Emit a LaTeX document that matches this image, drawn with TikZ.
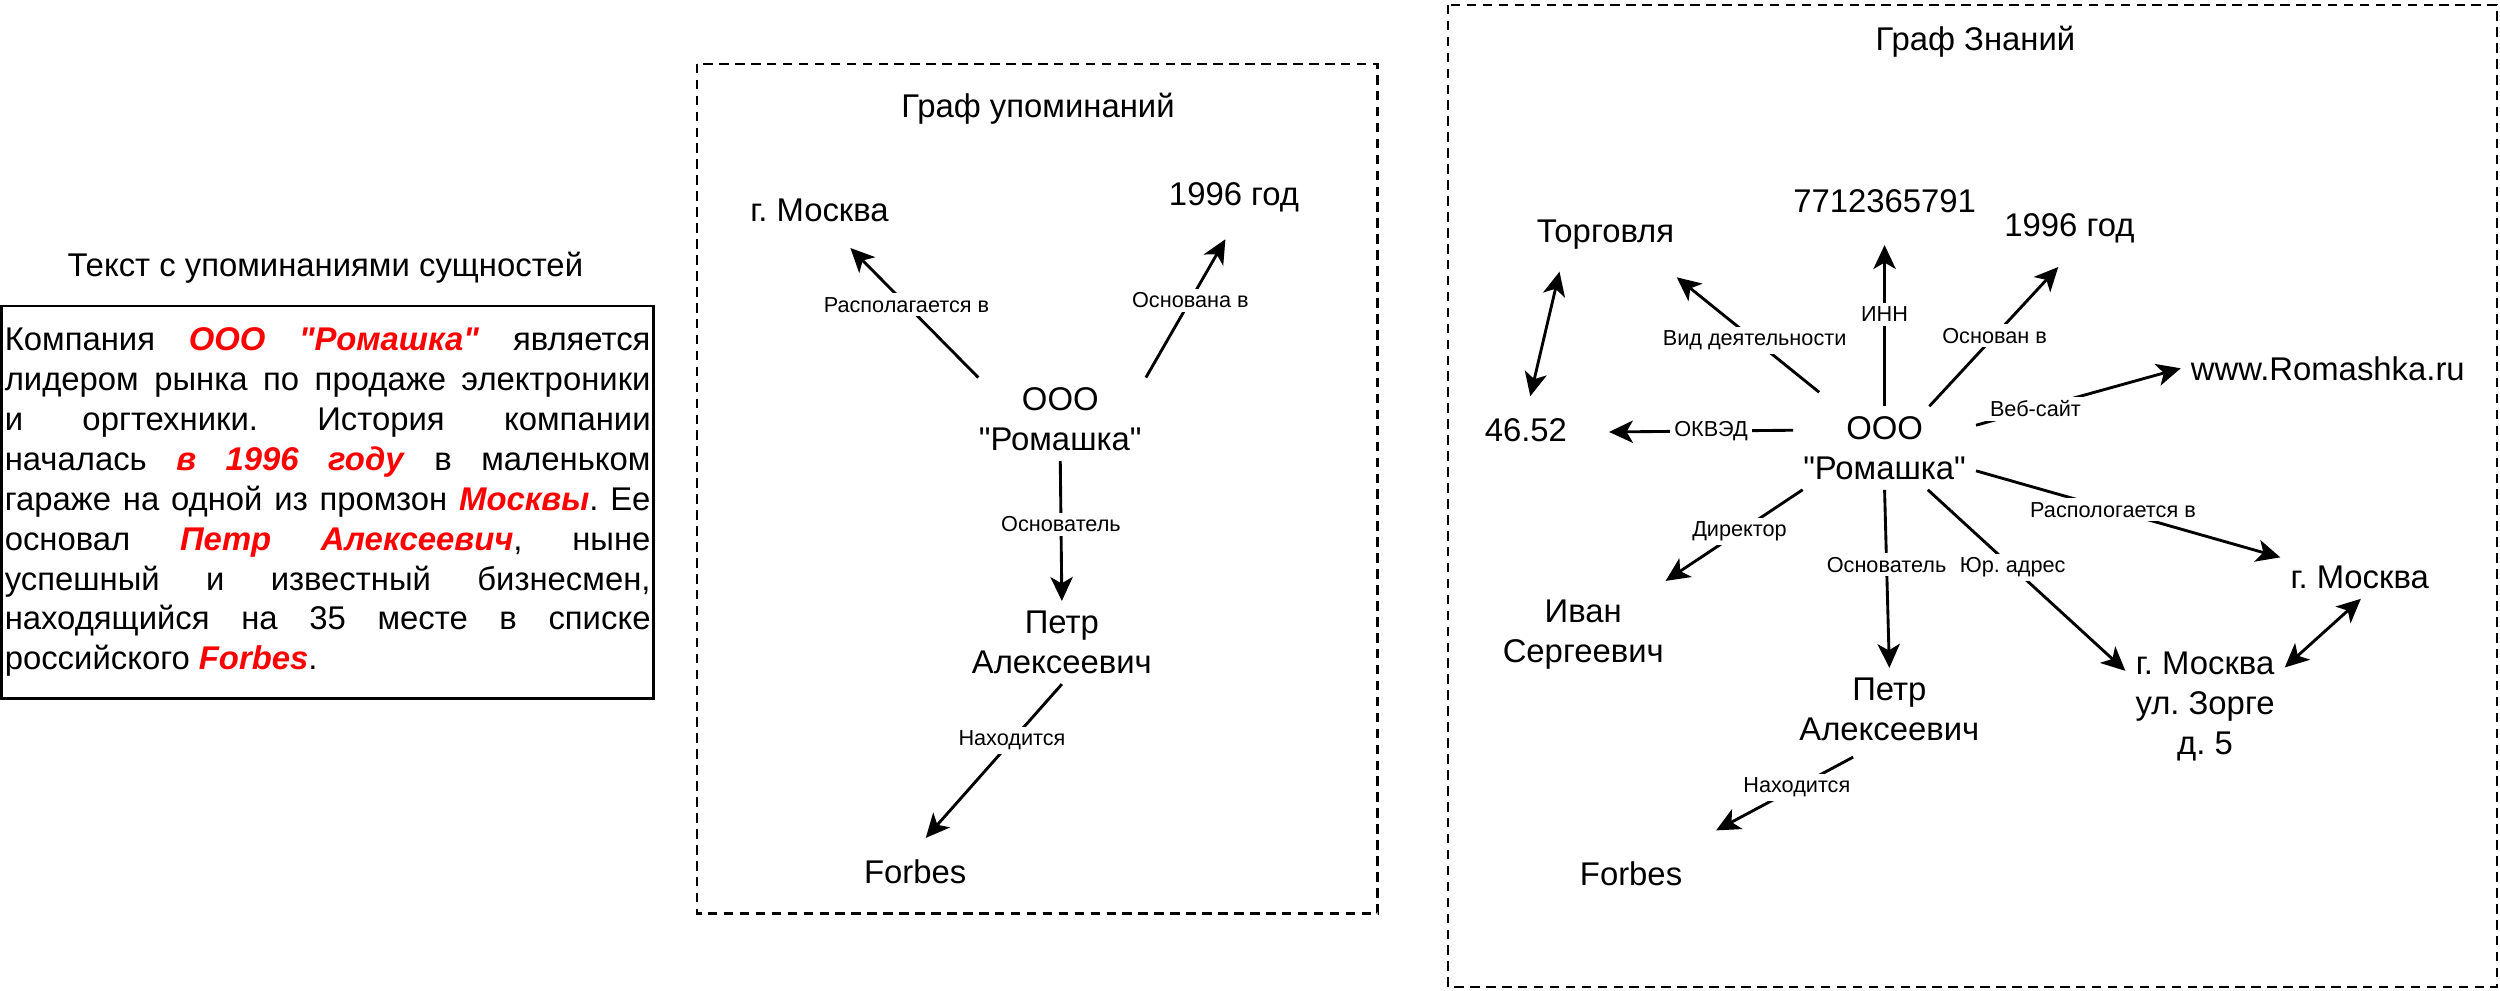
\documentclass[tikz,border=0pt]{standalone}
\usepackage{fontspec}
\setmainfont{Liberation Sans}[Ligatures=TeXOff]
\usepackage{xcolor}
\usepackage{tikz}
\usetikzlibrary{arrows.meta, positioning}

\newcommand{\entfont}{\fontsize{10.3}{12.5}\selectfont}
\newcommand{\lblfont}{\fontsize{6.8}{8}\selectfont}
\newcommand{\hl}[1]{\textcolor{red}{\textbf{\textit{#1}}}}
\frenchspacing

\begin{document}
\begin{tikzpicture}[x=0.5pt, y=-0.5pt,
    ent/.style={align=center, font=\entfont, inner sep=3pt},
    lbl/.style={fill=white, font=\lblfont, inner sep=1.2pt},
    rel/.style={line width=0.9pt, -{Stealth[length=7.5pt, width=7pt, inset=2pt]}},
    relboth/.style={line width=0.9pt, {Stealth[length=7.5pt, width=7pt, inset=2pt]}-{Stealth[length=7.5pt, width=7pt, inset=2pt]}},
    frame/.style={line width=0.7pt, dash pattern=on 3pt off 2pt}]
  \useasboundingbox (0,0) rectangle (1568,621);

  % text with mentions
  \node[ent] (txttitle) at (204,168) {Текст с упоминаниями сущностей};
  \node[draw, line width=0.8pt, text width=202.5pt, inner xsep=1pt, inner ysep=0pt,
        minimum height=123pt, align=justify, font=\entfont] (txt) at (205.5,315) {\noindent
    Компания \hl{ООО "Ромашка"} является\linebreak
    лидером рынка по продаже электроники\linebreak
    и оргтехники. История компании\linebreak
    началась \hl{в 1996 году} в маленьком\linebreak
    гараже на одной из промзон \hl{Москвы}. Ее\linebreak
    основал \hl{Петр Алексеевич}, ныне\linebreak
    успешный и известный бизнесмен,\linebreak
    находящийся на 35 месте в списке\linebreak
    российского \hl{Forbes}.};

  % mention graph
  \draw[frame] (437,40) rectangle (864,573);
  \node[ent] (mtitle) at (651,68) {Граф упоминаний};
  \node[ent] (morg) at (665,263) {ООО\\"Ромашка"};
  \node[ent] (mmsk) at (514,132) {г. Москва};
  \node[ent] (myear) at (774,124) {1996 год};
  \node[ent] (mpetr) at (666,403) {Петр\\Алексеевич};
  \node[ent] (mforbes) at (574,547) {Forbes};
  \draw[rel, shorten >=7pt] (morg.153) -- node[lbl]{Располагается в} (mmsk.-55);
  \draw[rel, shorten >=6pt] (morg.26) -- node[lbl]{Основана в} (myear.-88);
  \draw[rel] (morg.south) -- node[lbl, pos=0.45]{Основатель} (mpetr.north);
  \draw[rel, shorten >=5pt] (mpetr.south) -- node[lbl, pos=0.34]{Находится} (mforbes.north);

  % knowledge graph
  \draw[frame] (908,3) rectangle (1566,619);
  \node[ent] (ktitle) at (1239,26) {Граф Знаний};
  \node[ent] (korg) at (1182,281) {ООО\\"Ромашка"};
  \node[ent] (kinn) at (1182,126) {7712365791};
  \node[ent] (ktrade) at (1007,147) {Торговля};
  \node[ent] (kyear) at (1298,143) {1996 год};
  \node[ent] (kweb) at (1460,231) {www.Romashka.ru};
  \node[ent] (kokved) at (957,270) {46.52};
  \node[ent] (kmsk) at (1480,362) {г. Москва};
  \node[ent] (kivan) at (993,398) {Иван\\Сергеевич};
  \node[ent] (kpetr) at (1185,445) {Петр\\Алексеевич};
  \node[ent] (kaddr) at (1383,443) {г. Москва\\ул. Зорге\\д. 5};
  \node[ent] (kforbes) at (1023,548) {Forbes};
  \draw[rel, shorten >=7pt] (korg.north) -- node[lbl, pos=0.5]{ИНН} (kinn.south);
  \draw[rel, shorten <=7pt, shorten >=9pt] (korg.139) -- node[lbl, pos=0.45]{Вид деятельности} (ktrade.-27);
  \draw[rel, shorten >=6pt] (korg.43) -- node[lbl, pos=0.46]{Основан в} (kyear.-86);
  \draw[rel] (korg.14) -- node[lbl, pos=0.29]{Веб-сайт} (kweb.180);
  \draw[rel, shorten >=10pt] (korg.169) -- node[lbl, pos=0.38]{ОКВЭД} (kokved.-2);
  \draw[relboth, shorten <=4pt, shorten >=4pt] (ktrade.-150) -- (kokved.86);
  \draw[rel, shorten >=5pt] (korg.-153) -- node[lbl, pos=0.42]{Директор} (kivan.33);
  \draw[rel] (korg.south) -- node[lbl, pos=0.42]{Основатель} (kpetr.north);
  \draw[rel] (korg.-44) -- node[lbl, pos=0.43]{Юр. адрес} (kaddr.156);
  \draw[rel] (korg.-14) -- node[lbl, pos=0.45]{Распологается в} (kmsk.166);
  \draw[relboth] (kmsk.-87) -- (kaddr.26);
  \draw[rel, shorten <=4pt, shorten >=14pt] (kpetr.-121) -- node[lbl, pos=0.36]{Находится} (kforbes.26);
\end{tikzpicture}
\end{document}
